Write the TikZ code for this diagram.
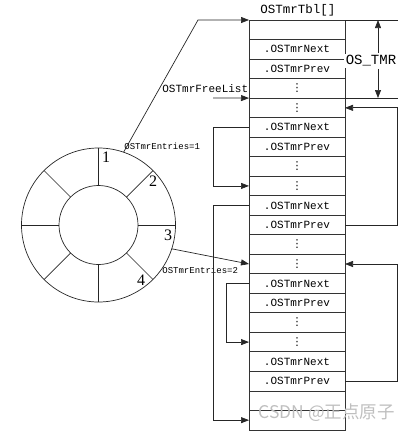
\documentclass[tikz,border=0pt]{standalone}
\usepackage{fontspec}
\setmainfont{Liberation Serif}
\newfontfamily\monof{Liberation Mono}
\newfontfamily\dejaf{DejaVu Sans}
\newfontfamily\cjkf{Noto Sans CJK SC}
\usetikzlibrary{arrows.meta,calc}
\newcommand{\vd}{{\dejaf ⋮}}
\begin{document}
\begin{tikzpicture}[x=1pt,y=-1pt,
  every path/.style={line width=0.7pt},
  cell/.style={draw=black!80, minimum width=96pt, minimum height=19.52pt, inner sep=0pt, outer sep=0pt, font=\monof\fontsize{11}{11}\selectfont},
  arr/.style={-{Triangle[length=8pt,width=6pt]}, draw=black!85},
  ring/.style={circle, draw=black!85, inner sep=0pt, outer sep=0pt},
  num/.style={font=\fontsize{16}{16}\selectfont},
  small/.style={font=\monof\fontsize{9}{9}\selectfont, inner sep=0pt},
  lbl/.style={font=\monof\fontsize{11}{11}\selectfont, inner sep=0pt}
]
\useasboundingbox (0,0) rectangle (409,432);
% table
\foreach \i/\t in {0/{},1/{.OSTmrNext},2/{.OSTmrPrev},3/{\vd},4/{\vd},
  5/{.OSTmrNext},6/{.OSTmrPrev},7/{\vd},8/{\vd},
  9/{.OSTmrNext},10/{.OSTmrPrev},11/{\vd},12/{\vd},
  13/{.OSTmrNext},14/{.OSTmrPrev},15/{\vd},16/{\vd},
  17/{.OSTmrNext},18/{.OSTmrPrev},19/{},20/{}}
  \node[cell] (r\i) at (297,{20+19.52*(\i+0.5)}) {\t};
\node[font=\monof\fontsize{12.5}{12.5}\selectfont] (title) at (298,10) {OSTmrTbl[]};
% OS_TMR dimension
\draw[draw=black!85] (r0.north east) -- ++(53,0);
\draw[draw=black!85] (r3.south east) -- ++(53,0);
\node[font=\monof\fontsize{14}{14}\selectfont, fill=white, inner sep=2pt] (ostmr) at (371,61) {OS\_TMR};
\coordinate (vt) at (378,20);
\coordinate (vb) at (378,98);
\draw[arr] (ostmr.north -| vt) -- (vt);
\draw[arr] (ostmr.south -| vb) -- (vb);
% circle
\node[ring, minimum size=154pt] (outer) at (98.5,225) {};
\node[ring, minimum size=79pt] (inner) at (98.5,225) {};
\foreach \a in {0,45,...,315} \draw[draw=black!85] (inner.\a) -- (outer.\a);
\node[num] (n1) at (106,157) {1};
\node[num] (n2) at (153,181) {2};
\node[num] (n3) at (168,235) {3};
\node[num] (n4) at (141,280) {4};
% entries arrows
\coordinate (bend) at (198,20);
\draw[arr] (outer.71) -- (bend) -- (r0.north west);
\node[small, anchor=west] (e1) at (124,146) {OSTmrEntries=1};
\draw[arr] (outer.-18) -- (r12.west);
\node[small, anchor=west] (e2) at (162,270) {OSTmrEntries=2};
% free list
\coordinate (fl) at (213,98);
\draw[arr] (fl) -- (r3.south west);
\node[lbl, anchor=west] (fll) at (162,89) {OSTmrFreeList};
% left loops
\draw[arr] (r5.west) -- ++(-36,0) |- (r8.west);
\draw[arr] (r9.west) -- ++(-36,0) |- (r20.west);
\draw[arr] (r13.west) -- ++(-23,0) |- (r16.west);
% right loops
\draw[arr] (r10.east) -- ++(52,0) |- (r4.east);
\draw[arr] (r18.east) -- ++(52,0) |- (r12.east);
% watermark
\node[text=black!25, font=\cjkf\fontsize{17.5}{17.5}\selectfont, anchor=west, inner sep=0pt] (wm) at (258,413) {CSDN @正点原子};
\end{tikzpicture}
\end{document}
